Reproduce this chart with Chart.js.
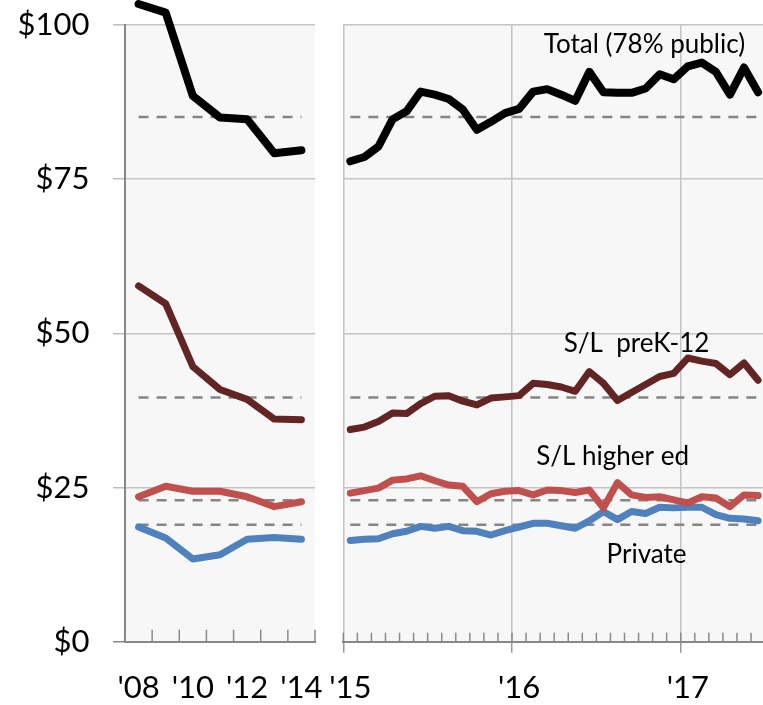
<!DOCTYPE html>
<html><head><meta charset="utf-8">
<script src="https://cdn.jsdelivr.net/npm/chart.js@4.4.1/dist/chart.umd.min.js"></script>
<style>
html,body{margin:0;padding:0;background:#fff;overflow:hidden;width:763px;height:705px;}
#wrap{position:relative;width:763px;height:705px;overflow:hidden;}
canvas{position:absolute;top:0;}
#c1{left:0;} #c2{left:300px;}
</style></head><body>
<div id="wrap"><canvas id="c1" width="330" height="705"></canvas><canvas id="c2" width="470" height="705"></canvas></div>
<script>
// ---- Annual data (left panel) ----
const annualYears = ["'08","'09","'10","'11","'12","'13","'14"];
const annualShown = ["'08","'10","'12","'14"];
const annualTotal    = [103.4,102.0,88.5,85.0,84.7,79.2,79.7];
const annualPreK12   = [57.7,54.8,44.6,40.9,39.3,36.1,36.0];
const annualHigherEd = [23.5,25.2,24.4,24.4,23.5,21.9,22.7];
const annualPrivate  = [18.6,16.8,13.4,14.1,16.6,16.9,16.6];

// ---- Monthly data (right panel) ----
const months = ["2015-01","2015-02","2015-03","2015-04","2015-05","2015-06","2015-07","2015-08","2015-09","2015-10","2015-11","2015-12",
                "2016-01","2016-02","2016-03","2016-04","2016-05","2016-06","2016-07","2016-08","2016-09","2016-10","2016-11","2016-12",
                "2017-01","2017-02","2017-03","2017-04","2017-05","2017-06"];
const yearTickLabels = {"2015-01":"'15","2016-01":"'16","2017-01":"'17"};
const monthlyTotal    = [77.9,78.6,80.3,84.7,86.0,89.2,88.7,88.0,86.3,83.0,84.3,85.7,86.4,89.2,89.6,88.7,87.7,92.4,89.1,89.0,89.0,89.7,92.0,91.2,93.3,93.9,92.4,88.7,93.1,89.1];
const monthlyPreK12   = [34.4,34.8,35.7,37.1,37.0,38.6,39.8,39.9,39.0,38.4,39.5,39.7,39.9,41.9,41.7,41.3,40.6,43.8,41.9,39.1,40.4,41.7,43.0,43.5,46.0,45.5,45.1,43.3,45.2,42.4];
const monthlyHigherEd = [24.1,24.5,24.9,26.2,26.4,26.9,26.1,25.4,25.2,22.7,24.0,24.4,24.5,23.8,24.6,24.5,24.2,24.6,21.7,25.8,23.8,23.4,23.5,23.0,22.5,23.5,23.3,21.9,23.8,23.7];
const monthlyPrivate  = [16.4,16.6,16.7,17.5,17.9,18.7,18.4,18.7,18.0,17.9,17.3,18.0,18.6,19.2,19.2,18.8,18.4,19.6,21.1,19.8,21.1,20.8,21.8,21.7,21.8,21.8,20.6,20.0,19.9,19.6];

// long-run average reference levels (dashed)
const avgTotal = 85.1, avgPreK12 = 39.6, avgHigherEd = 22.95, avgPrivate = 18.95;
const yTicks = [0,25,50,75,100];

// series labels placed in the right panel (month index, value)
const seriesLabels = [
  {text:"Total (78% public)", idx:20.92, val:95.4},
  {text:"S/L  preK-12",       idx:20.36, val:47.0},
  {text:"S/L higher ed",      idx:18.65, val:28.65},
  {text:"Private",            idx:21.07, val:12.7}
];

const FONT = "Lato";
const colors = {total:"#000000", prek:"#632523", higher:"#c0504d", priv:"#4f81bd", dash:"#858585"};

function seriesSets(total, prek, higher, priv){
  const base = {pointRadius:0, tension:0, clip:false, borderCapStyle:'round', borderJoinStyle:'round', fill:false};
  return [
    Object.assign({data:total, borderColor:colors.total, borderWidth:8, order:0}, base),
    Object.assign({data:prek, borderColor:colors.prek, borderWidth:7, order:1}, base),
    Object.assign({data:higher, borderColor:colors.higher, borderWidth:7, order:2}, base),
    Object.assign({data:priv, borderColor:colors.priv, borderWidth:7, order:3}, base)
  ];
}
function dashSets(n){
  return [avgTotal, avgPreK12, avgHigherEd, avgPrivate].map(v => ({
    data: new Array(n).fill(v), borderColor:colors.dash, borderWidth:2.5, borderDash:[10,8],
    pointRadius:0, tension:0, clip:false, fill:false, order:10
  }));
}

const bgPlugin = {
  id:'bg',
  beforeDraw(chart){
    const {ctx, chartArea:a} = chart;
    ctx.save(); ctx.fillStyle = '#f7f7f7';
    ctx.fillRect(a.left, a.top, a.right-a.left, a.bottom-a.top);
    ctx.restore();
  }
};
function innerTicksPlugin(len){
  return {
    id:'innerTicks',
    afterDraw(chart){
      const {ctx, chartArea:a} = chart;
      const x = chart.scales.x;
      const n = x.ticks.length;
      const step = (a.right - a.left)/n;
      ctx.save(); ctx.strokeStyle = '#8a8a8a'; ctx.lineWidth = 1.5;
      for (let i=0;i<=n;i++){
        const px = a.left + i*step;
        ctx.beginPath(); ctx.moveTo(px, a.bottom); ctx.lineTo(px, a.bottom-len); ctx.stroke();
      }
      ctx.restore();
    }
  };
}
const labelPlugin = {
  id:'seriesLabels',
  afterDatasetsDraw(chart){
    const {ctx} = chart;
    const xs = chart.scales.x, ys = chart.scales.y;
    const x0 = xs.getPixelForValue(0), x1 = xs.getPixelForValue(1);
    ctx.save();
    ctx.font = "26px " + FONT; ctx.fillStyle = '#000';
    ctx.textAlign = 'center'; ctx.textBaseline = 'alphabetic';
    seriesLabels.forEach(l => {
      ctx.fillText(l.text, x0 + l.idx*(x1-x0), ys.getPixelForValue(l.val));
    });
    ctx.restore();
  }
};

const common = {
  responsive:false, animation:false, devicePixelRatio:1,
  plugins:{legend:{display:false}, tooltip:{enabled:false}},
  events:[]
};
const xTickFont = {family:FONT, size:31};

new Chart(document.getElementById('c1'), {
  type:'line',
  data:{labels:annualYears, datasets:[...seriesSets(annualTotal,annualPreK12,annualHigherEd,annualPrivate), ...dashSets(annualYears.length)]},
  options:Object.assign({}, common, {
    layout:{padding:{top:25,right:15,left:0,bottom:0}},
    scales:{
      x:{type:'category', offset:true,
         grid:{display:false, drawTicks:true, tickLength:11},
         border:{display:true, color:'#888', width:2},
         ticks:{autoSkip:false, maxRotation:0, minRotation:0, padding:17, font:xTickFont, color:'#000',
                callback:(v,i)=> annualShown.includes(annualYears[i]) ? annualYears[i] : ''},
         afterFit:s=>{s.height=63.3; s.paddingLeft=0; s.paddingRight=0;}},
      y:{min:0, max:100,
         afterBuildTicks:s=>{s.ticks = yTicks.map(v=>({value:v}));},
         ticks:{padding:23.5, font:{family:FONT,size:31}, color:'#000', callback:v=>'$'+v},
         grid:{color:'#c4c4c4', lineWidth:1.5, tickLength:12, tickWidth:1.5,
               tickColor:c=> c.tick && c.tick.value===0 ? '#888' : '#bdbdbd'},
         border:{display:true, color:'#888', width:2},
         afterFit:s=>{s.width=125; s.paddingTop=0; s.paddingBottom=0;}}
    }
  }),
  plugins:[bgPlugin, innerTicksPlugin(12)]
});

new Chart(document.getElementById('c2'), {
  type:'line',
  data:{labels:months, datasets:[...seriesSets(monthlyTotal,monthlyPreK12,monthlyHigherEd,monthlyPrivate), ...dashSets(months.length)]},
  options:Object.assign({}, common, {
    layout:{padding:{top:25,right:4.9,left:0,bottom:0}},
    scales:{
      x:{type:'category', offset:true,
         grid:{display:true, offset:true, drawOnChartArea:true, drawTicks:true, tickLength:11, lineWidth:1.5, tickWidth:1.5,
               color:c=> (c.index%12===0) ? '#c4c4c4' : 'rgba(0,0,0,0)',
               tickColor:c=> (c.index%12===0) ? '#999' : 'rgba(0,0,0,0)'},
         border:{display:true, color:'#888', width:2},
         ticks:{autoSkip:false, maxRotation:0, minRotation:0, padding:17, font:xTickFont, color:'#000',
                callback:(v,i)=> yearTickLabels[months[i]] || ''},
         afterFit:s=>{s.height=63.3; s.paddingLeft=0; s.paddingRight=0;}},
      y:{min:0, max:100,
         afterBuildTicks:s=>{s.ticks = yTicks.map(v=>({value:v}));},
         ticks:{display:false},
         grid:{color:'#c4c4c4', lineWidth:1.5, drawTicks:false},
         border:{display:false},
         afterFit:s=>{s.width=43.3; s.paddingTop=0; s.paddingBottom=0;}}
    }
  }),
  plugins:[bgPlugin, innerTicksPlugin(9), labelPlugin]
});
</script>
</body></html>
